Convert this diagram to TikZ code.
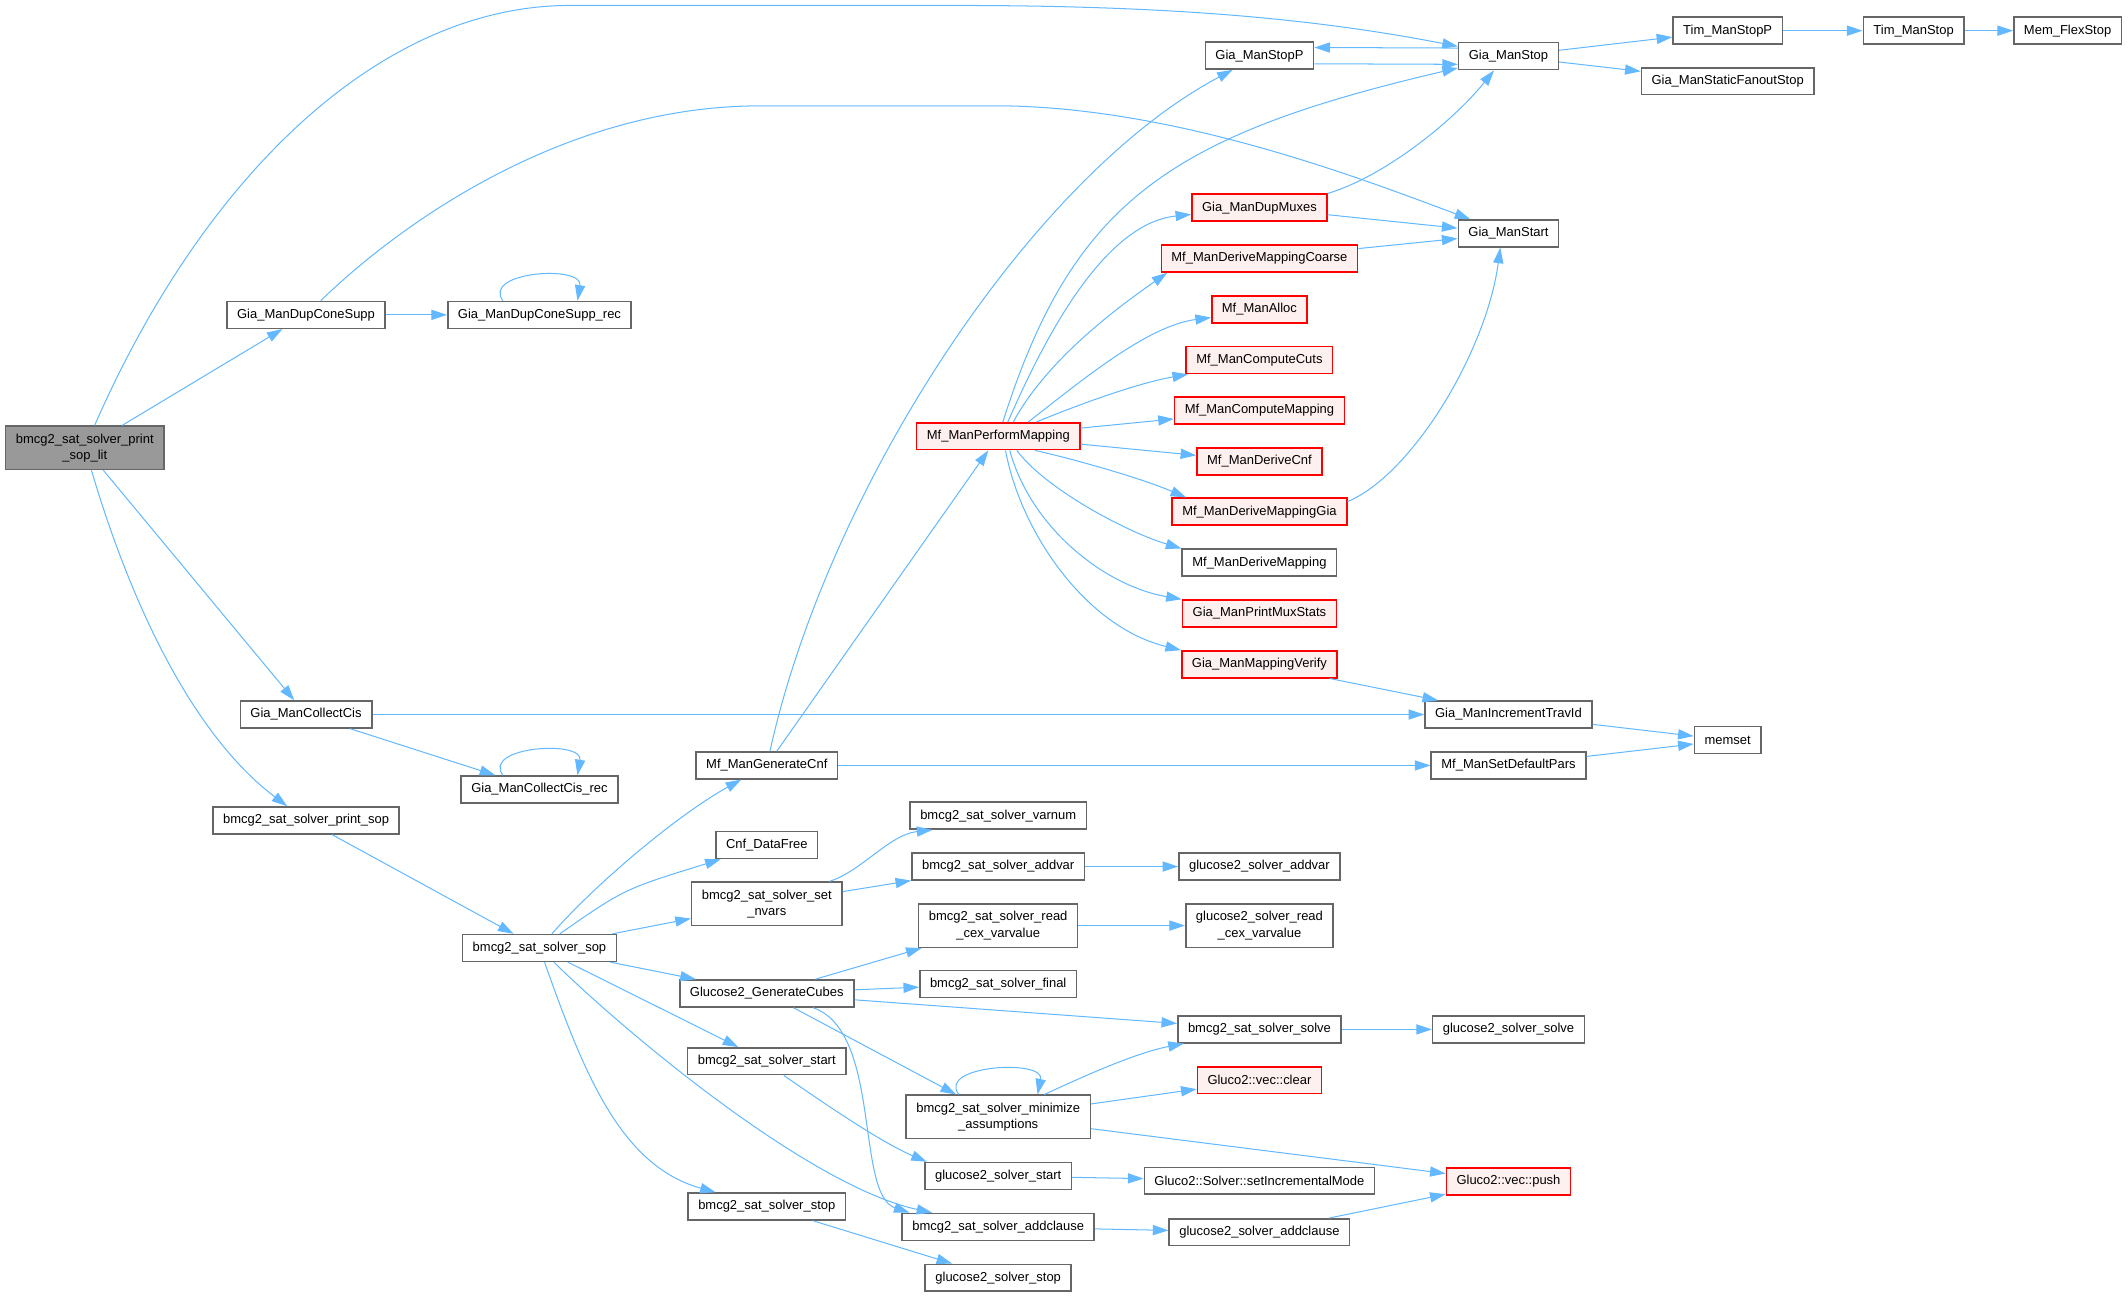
\documentclass[tikz,border=0pt]{standalone}
\usepackage{fontspec}
\setmainfont{Liberation Sans}
\usepackage{tikz}
\usetikzlibrary{arrows.meta}
\definecolor{edgeblue}{HTML}{63B8FF}
\definecolor{boxgray}{HTML}{666666}
\definecolor{rootgray}{HTML}{999999}
\definecolor{hotfill}{HTML}{FFF0F0}
\newcommand{\edgecol}{edgeblue}
\newcommand{\boxcol}{boxgray}
\tikzset{
  fn/.style={draw=\boxcol, fill=white, line width=1.1bp, inner xsep=7.5bp, inner ysep=2bp,
    minimum height=19.8bp, font=\fontsize{9.6}{12.1}\selectfont},
  fnred/.style={fn, draw=red, fill=hotfill},
  fnroot/.style={fn, fill=rootgray},
  two/.style={align=center, minimum height=32bp},
  call/.style={draw=\edgecol, line width=0.75bp, -{Triangle[length=11.5bp,width=7.5bp]}}
}

\begin{document}
\begin{tikzpicture}[x=1bp, y=-1bp]
    \useasboundingbox (0,0) rectangle (1568,955);

    \node[fnroot, two] (root) at (62.5, 330) {bmcg2\_sat\_solver\_print\\\_sop\_lit};

    \node[fn] (dcs) at (225.5, 232) {Gia\_ManDupConeSupp};
    \node[fn] (cci) at (225.5, 526.5) {Gia\_ManCollectCis};
    \node[fn] (psop) at (225.5, 604.5) {bmcg2\_sat\_solver\_print\_sop};

    \node[fn] (dcsrec) at (397.5, 232) {Gia\_ManDupConeSupp\_rec};
    \node[fn] (ccirec) at (397.5, 581.7) {Gia\_ManCollectCis\_rec};
    \node[fn] (sop) at (397.5, 698.5) {bmcg2\_sat\_solver\_sop};

    \node[fn] (gencnf) at (565, 564) {Mf\_ManGenerateCnf};
    \node[fn] (cnffree) at (565, 622.7) {Cnf\_DataFree};
    \node[fn, two] (nvars) at (565, 666) {bmcg2\_sat\_solver\_set\\\_nvars};
    \node[fn] (cubes) at (565, 732) {Glucose2\_GenerateCubes};
    \node[fn] (sstart) at (565, 782) {bmcg2\_sat\_solver\_start};
    \node[fn] (sstop) at (565, 889) {bmcg2\_sat\_solver\_stop};

    \node[fnred] (perfmap) at (735.6, 321.4) {Mf\_ManPerformMapping};
    \node[fn] (varnum) at (735.5, 601) {bmcg2\_sat\_solver\_varnum};
    \node[fn] (addvar) at (735.5, 638.5) {bmcg2\_sat\_solver\_addvar};
    \node[fn, two] (rcex) at (735.5, 682) {bmcg2\_sat\_solver\_read\\\_cex\_varvalue};
    \node[fn] (final) at (735.5, 725) {bmcg2\_sat\_solver\_final};
    \node[fn, two] (minas) at (735.5, 823) {bmcg2\_sat\_solver\_minimize\\\_assumptions};
    \node[fn] (gstart) at (735.5, 866.5) {glucose2\_solver\_start};
    \node[fn] (addcl) at (735.5, 904) {bmcg2\_sat\_solver\_addclause};
    \node[fn] (gstop) at (735.5, 941.5) {glucose2\_solver\_stop};

    \node[fn] (manstopp) at (928, 41) {Gia\_ManStopP};
    \node[fnred] (dupmux) at (928, 153) {Gia\_ManDupMuxes};
    \node[fnred] (coarse) at (928, 190.5) {Mf\_ManDeriveMappingCoarse};
    \node[fnred] (alloc) at (928, 228) {Mf\_ManAlloc};
    \node[fnred] (cuts) at (928, 265.3) {Mf\_ManComputeCuts};
    \node[fnred] (cmap) at (928, 302.5) {Mf\_ManComputeMapping};
    \node[fnred] (dcnf) at (928, 340) {Mf\_ManDeriveCnf};
    \node[fnred] (dmapgia) at (928, 377) {Mf\_ManDeriveMappingGia};
    \node[fn] (dmap) at (928, 414.6) {Mf\_ManDeriveMapping};
    \node[fnred] (pmux) at (928, 452) {Gia\_ManPrintMuxStats};
    \node[fnred] (mverify) at (928, 489.5) {Gia\_ManMappingVerify};
    \node[fn] (gaddvar) at (928, 638.5) {glucose2\_solver\_addvar};
    \node[fn, two] (grcex) at (928, 682) {glucose2\_solver\_read\\\_cex\_varvalue};
    \node[fn] (ssolve) at (928, 758.5) {bmcg2\_sat\_solver\_solve};
    \node[fnred] (vclear) at (928, 796) {Gluco2::vec::clear};
    \node[fn] (setinc) at (928, 870) {Gluco2::Solver::setIncrementalMode};
    \node[fn] (gaddcl) at (928, 908) {glucose2\_solver\_addclause};

    \node[fn] (manstop) at (1111.5, 41.4) {Gia\_ManStop};
    \node[fn] (manstart) at (1111.5, 172) {Gia\_ManStart};
    \node[fn] (travid) at (1111.5, 526.5) {Gia\_ManIncrementTravId};
    \node[fn] (defpars) at (1111.5, 564) {Mf\_ManSetDefaultPars};
    \node[fn] (gsolve) at (1111.5, 758.5) {glucose2\_solver\_solve};
    \node[fnred] (vpush) at (1111.5, 870.5) {Gluco2::vec::push};

    \node[fn] (timstopp) at (1273, 22.6) {Tim\_ManStopP};
    \node[fn] (sfostop) at (1273, 59.9) {Gia\_ManStaticFanoutStop};
    \node[fn] (memset) at (1273, 545.3) {memset};
    \node[fn] (timstop) at (1410, 22.6) {Tim\_ManStop};
    \node[fn] (flexstop) at (1523.5, 22.6) {Mem\_FlexStop};

    % calls of the root
    \draw[call] (root) .. controls (150, 130) and (280, 4) .. (420, 4) -- (700, 4)
        .. controls (850, 4) and (960, 12) .. (manstop);
    \draw[call] (root) -- (dcs);
    \draw[call] (root) -- (cci);
    \draw[call] (root) .. controls (95, 440) and (140, 540) .. (psop);

    \draw[call] (dcs) -- (dcsrec);
    \draw[call] (dcs) .. controls (300, 160) and (420, 78) .. (560, 78) -- (740, 78)
        .. controls (870, 80) and (1004, 132) .. (manstart);
    \draw[call] ([xshift=-27bp]dcsrec.north) .. controls (355, 200) and (430, 195) .. ([xshift=28bp]dcsrec.north);

    \draw[call] (cci) -- (travid);
    \draw[call] (cci) -- (ccirec);
    \draw[call] ([xshift=-27bp]ccirec.north) .. controls (355, 550) and (430, 545) .. ([xshift=28bp]ccirec.north);

    \draw[call] (psop) -- (sop);

    \draw[call] (sop) .. controls (440, 650) and (500, 600) .. (gencnf);
    \draw[call] (sop) .. controls (460, 655) .. (cnffree);
    \draw[call] (sop) -- (nvars);
    \draw[call] (sop) -- (cubes);
    \draw[call] (sop) -- (sstart);
    \draw[call] (sop) .. controls (460, 760) and (596, 874) .. (addcl);
    \draw[call] (sop) .. controls (430, 790) and (457, 859) .. (sstop);

    \draw[call] (gencnf) .. controls (610, 360) and (760, 130) .. (manstopp);
    \draw[call] (gencnf) -- (perfmap);
    \draw[call] (gencnf) -- (defpars);

    \draw[call] (perfmap) .. controls (790, 150) and (860, 100) .. (manstop);
    \draw[call] ([xshift=7bp]perfmap.north) .. controls (765, 260) and (810, 165) .. ([yshift=-5bp]dupmux.west);
    \draw[call] ([xshift=11bp]perfmap.north) .. controls (771, 266) and (820, 229) .. ([xshift=5bp]coarse.south west);
    \draw[call] ([xshift=22bp]perfmap.north) .. controls (795, 282) and (845, 240) .. ([yshift=-6bp]alloc.west);
    \draw[call] ([xshift=28bp]perfmap.north) .. controls (800, 296) and (840, 282) .. ([xshift=2bp]cuts.south west);
    \draw[call] (perfmap) -- (cmap);
    \draw[call] (perfmap) -- (dcnf);
    \draw[call] ([xshift=27bp]perfmap.south) .. controls (790, 338) and (840, 352) .. ([xshift=11bp]dmapgia.north west);
    \draw[call] ([xshift=13.6bp]perfmap.south) .. controls (770, 360) and (830, 392) .. (dmap.north west);
    \draw[call] ([xshift=8.4bp]perfmap.south) .. controls (760, 390) and (815, 432) .. (pmux.north west);
    \draw[call] ([xshift=5.3bp]perfmap.south) .. controls (752, 392) and (800, 462) .. (mverify.north west);

    \draw[call] (dupmux.north east) .. controls (1020, 130) and (1070, 90) .. ([xshift=-10.6bp]manstop.south);
    \draw[call] (dupmux) -- (manstart);
    \draw[call] (coarse) -- (manstart);
    \draw[call] ([yshift=7.4bp]dmapgia.east) .. controls (1040, 350) and (1095, 260) .. ([xshift=-6bp]manstart.south);
    \draw[call] (mverify) -- (travid);

    \draw[call] ([yshift=6bp]manstop.west) -- ([yshift=6bp]manstopp.east);
    \draw[call] ([yshift=-6bp]manstopp.east) -- ([yshift=-6bp]manstop.west);
    \draw[call] (manstop) -- (timstopp);
    \draw[call] (manstop) -- (sfostop);
    \draw[call] (timstopp) -- (timstop);
    \draw[call] (timstop) -- (flexstop);

    \draw[call] (travid) -- (memset);
    \draw[call] (defpars) -- (memset);

    \draw[call] ([xshift=46bp]nvars.north) .. controls (635, 642) and (655, 615) .. ([xshift=17bp]varnum.south west);
    \draw[call] (nvars) -- (addvar);
    \draw[call] (addvar) -- (gaddvar);
    \draw[call] (rcex) -- (grcex);

    \draw[call] (cubes) -- (rcex);
    \draw[call] (cubes) -- (final);
    \draw[call] (cubes) -- (ssolve);
    \draw[call] (cubes) -- (minas);
    \draw[call] ([xshift=34bp]cubes.south) .. controls (650, 760) and (630, 880) .. ([xshift=6bp]addcl.north west);

    \draw[call] ([xshift=12.6bp]sstart.south) .. controls (610, 815) and (650, 842) .. ([xshift=2bp]gstart.north west);

    \draw[call] ([xshift=-29bp]minas.north) .. controls (690, 785) and (770, 780) .. ([xshift=29bp]minas.north);
    \draw[call] ([xshift=34bp]minas.north) .. controls (790, 797) and (835, 776) .. ([xshift=5bp]ssolve.south west);
    \draw[call] (minas) -- (vclear);
    \draw[call] (minas) -- (vpush);

    \draw[call] (gstart) -- (setinc);
    \draw[call] (addcl) -- (gaddcl);
    \draw[call] (gaddcl) -- (vpush);
    \draw[call] (sstop) -- (gstop);
    \draw[call] (ssolve) -- (gsolve);
\end{tikzpicture}
\end{document}
